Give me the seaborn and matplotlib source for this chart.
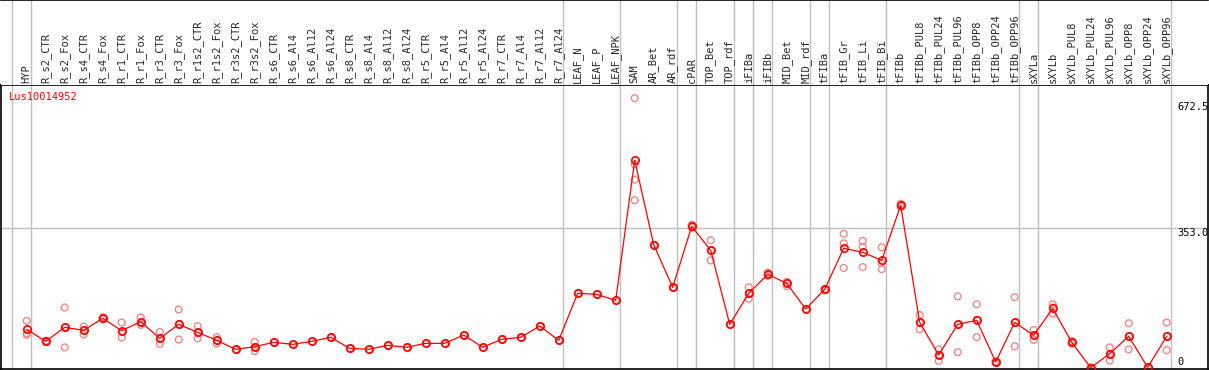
import matplotlib

matplotlib.use("Agg")
import matplotlib.pyplot as plt
import matplotlib.transforms as mtransforms
import pandas as pd
import seaborn as sns

gene = "Lus10014952"

samples = [
    "HYP",
    "R_s2_CTR", "R_s2_Fox", "R_s4_CTR", "R_s4_Fox", "R_r1_CTR", "R_r1_Fox",
    "R_r3_CTR", "R_r3_Fox", "R_r1s2_CTR", "R_r1s2_Fox", "R_r3s2_CTR", "R_r3s2_Fox",
    "R_s6_CTR", "R_s6_Al4", "R_s6_Al12", "R_s6_Al24",
    "R_s8_CTR", "R_s8_Al4", "R_s8_Al12", "R_s8_Al24",
    "R_r5_CTR", "R_r5_Al4", "R_r5_Al12", "R_r5_Al24",
    "R_r7_CTR", "R_r7_Al4", "R_r7_Al12", "R_r7_Al24",
    "LEAF_N", "LEAF_P", "LEAF_NPK",
    "SAM", "AR_Bet", "AR_rdf", "cPAR", "TOP_Bet", "TOP_rdf",
    "iFIBa", "iFIBb", "MID_Bet", "MID_rdf",
    "tFIBa", "tFIB_Gr", "tFIB_Li", "tFIB_Bi",
    "tFIBb", "tFIBb_PUL8", "tFIBb_PUL24", "tFIBb_PUL96",
    "tFIBb_OPP8", "tFIBb_OPP24", "tFIBb_OPP96",
    "sXYLa", "sXYLb", "sXYLb_PUL8", "sXYLb_PUL24", "sXYLb_PUL96",
    "sXYLb_OPP8", "sXYLb_OPP24", "sXYLb_OPP96",
]

means = [
    97.8, 67.4, 102.8, 95.2, 125.6, 94.4, 117.1, 75.0, 110.4, 90.1,
    69.9, 47.2, 53.9, 64.9, 59.8, 67.4, 77.5, 49.7, 47.2, 57.3,
    52.3, 62.3, 62.3, 83.4, 52.3, 72.5, 77.5, 106.1, 69.9, 188.7,
    186.2, 171.1, 524.9, 311.6, 203.9, 358.1, 297.4, 110.4, 188.7, 236.8,
    214.0, 149.1, 198.8, 302.5, 292.4, 272.2, 411.2, 115.4, 32.9, 110.4,
    120.5, 15.2, 115.4, 82.6, 150.8, 64.9, 0.8, 36.2, 80.1, 1.8,
    80.1,
]

replicates = [
    [119, 88, 84], [69, 67, 66], [153, 103, 52], [105, 95, 85], [128, 126, 123],
    [115, 92, 77], [128, 115, 109], [91, 73, 61], [148, 111, 72], [106, 89, 75],
    [78, 70, 62], [47], [66, 53, 43], [65], [60],
    [67], [77], [50], [47], [57], [52], [62], [62], [83], [52],
    [72], [77], [106], [70], [189], [186], [171],
    [682, 515, 476, 424], [312], [204], [362, 358, 355], [323, 297, 272], [110],
    [204, 188, 175], [241, 237, 233], [218, 214, 207], [149],
    [200, 199, 197], [339, 315, 253], [321, 306, 255], [305, 265, 250],
    [415, 411, 408], [134, 115, 98], [47, 33, 18], [181, 110, 40],
    [161, 122, 78], [17, 15, 13], [179, 115, 55],
    [96, 83, 71], [161, 153, 138], [68, 65, 62], [2, 1, 0], [52, 36, 19],
    [113, 80, 47], [2], [115, 80, 45],
]

# index of first sample in each tissue group (last one closes the chart)
group_starts = [0, 1, 29, 32, 35, 36, 38, 39, 40, 42, 43, 46, 53, 54, 61]
y_marks = [672.5, 353.0, 0]

sns.set_style("white")
plt.rcParams["font.family"] = ["DejaVu Sans Mono"]

W, H = 1209, 370


def px_box(x0, y0, x1, y1):
    return [x0 / W, 1 - y1 / H, (x1 - x0) / W, (y1 - y0) / H]


fig = plt.figure(figsize=(W / 100, H / 100), dpi=100)
ax = fig.add_axes(px_box(1, 85, 1208, 369))
hd = fig.add_axes(px_box(1, 0, 1208, 85))

xlim = ((1 - 26.7) / 19, (1208 - 26.7) / 19)
grey = "#c0c0c0"

# replicate points and mean profile
rep_df = pd.DataFrame(
    [(i, v) for i, reps in enumerate(replicates) for v in reps],
    columns=["pos", "value"],
)
mean_df = pd.DataFrame({"pos": range(len(samples)), "value": means})

for g in group_starts:
    ax.axvline(g - 0.8, color=grey, lw=1, zorder=0)
    hd.axvline(g - 0.8, color=grey, lw=1, zorder=0)
ax.axhline(y_marks[1], color=grey, lw=1, zorder=0)

sns.scatterplot(
    data=rep_df, x="pos", y="value", ax=ax, marker="o", s=24,
    color="#ee8a8a", facecolors="none", edgecolors="#ee8a8a", linewidth=1.0,
    zorder=2, legend=False,
)
sns.lineplot(
    data=mean_df, x="pos", y="value", ax=ax, color="red", lw=0.9,
    marker="o", markersize=5.3, markerfacecolor="none", markeredgecolor="red",
    markeredgewidth=1.2, zorder=3, legend=False,
)

ax.set_xlim(xlim)
ax.set_ylim(-2.5, 715.2)
ax.set_xticks([])
ax.set_yticks([])
ax.set_xlabel("")
ax.set_ylabel("")
for sp in ax.spines.values():
    sp.set_color("black")
    sp.set_linewidth(1.2)

ax.text(0.0066, 0.958, gene, transform=ax.transAxes, color="red",
        fontsize=7.5, ha="left", va="center")

for val in y_marks:
    ypos = val if val > 0 else 15
    va = "top" if val > 0 else "center"
    ax.text(0.975, ypos, f"{val:.1f}" if val > 0 else "0",
            transform=mtransforms.blended_transform_factory(ax.transAxes, ax.transData),
            fontsize=7.5, ha="left", va=va, color="black")

# rotated sample names in the header strip
hd.set_xlim(xlim)
hd.set_ylim(0, 1)
hd.set_xticks([])
hd.set_yticks([])
for name, sp in hd.spines.items():
    sp.set_visible(name == "top")
    sp.set_color("black")
    sp.set_linewidth(1.2)
trans = mtransforms.blended_transform_factory(hd.transData, hd.transAxes)
for i, s in enumerate(samples):
    hd.text(i, 0.025, s, transform=trans, rotation=90, fontsize=7.5,
            ha="center", va="bottom")

fig.savefig("out.png", dpi=100)
